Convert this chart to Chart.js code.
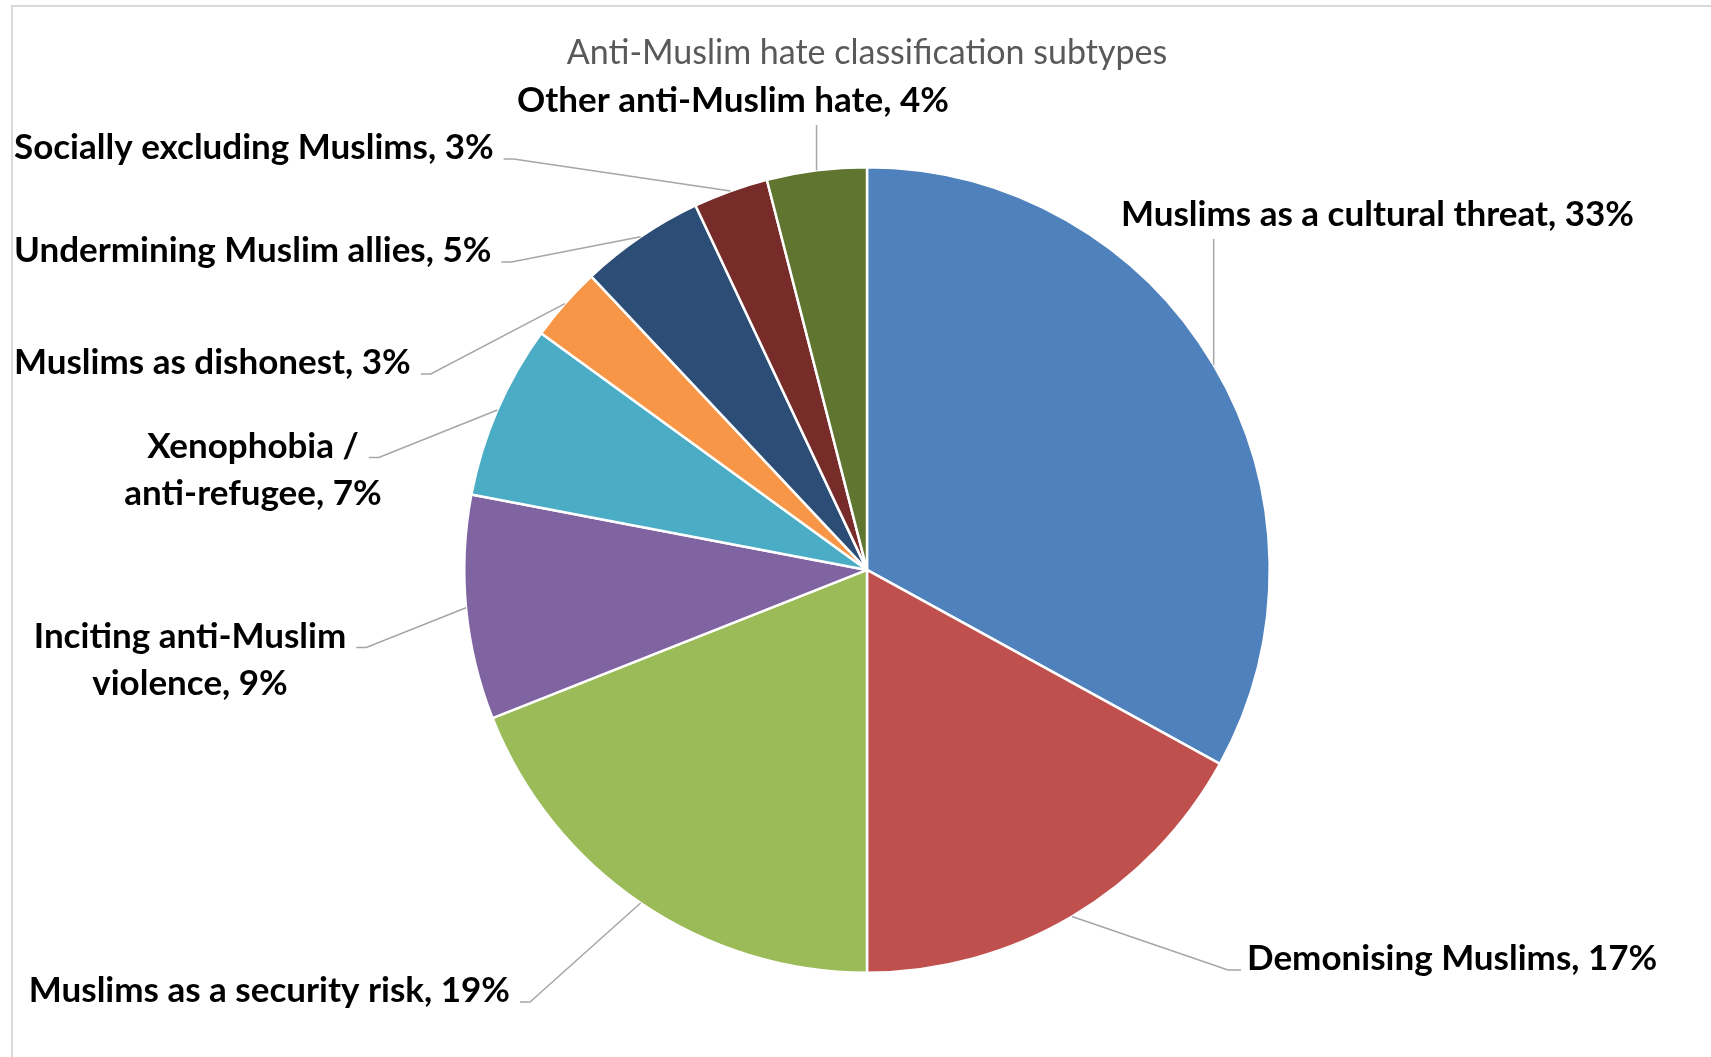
<!DOCTYPE html>
<html>
<head>
<meta charset="utf-8">
<script src="https://cdn.jsdelivr.net/npm/chart.js@4.4.1/dist/chart.umd.min.js"></script>
<style>
    body { margin: 0; background: #fff; }
    #wrap { width: 1711px; height: 1057px; position: relative; }
</style>
</head>
<body>
<div id="wrap"><canvas id="myChart"></canvas></div>
<script>
const categories = [
    'Muslims as a cultural threat',
    'Demonising Muslims',
    'Muslims as a security risk',
    'Inciting anti-Muslim violence',
    'Xenophobia / anti-refugee',
    'Muslims as dishonest',
    'Undermining Muslim allies',
    'Socially excluding Muslims',
    'Other anti-Muslim hate'
];
const shares = [33, 17, 19, 9, 7, 3, 5, 3, 4];
const sliceColors = ['#4F81BD', '#C0504D', '#9BBB59', '#8064A2', '#4BACC6', '#F79646', '#2C4D75', '#772C2A', '#5F7530'];

// where each data label sits and how its leader line runs
const labelSpots = [
    { x: 1121, y: 215, align: 'left', leader: 'down' },
    { x: 1247, y: 959, align: 'left', leader: 'right' },
    { x: 510, y: 991, align: 'right', leader: 'left' },
    { x: 190, y: 660, align: 'center', wrap: 360, leader: 'left' },
    { x: 253, y: 470, align: 'center', wrap: 290, leader: 'left' },
    { x: 14, y: 363, align: 'left', leader: 'left' },
    { x: 14, y: 251, align: 'left', leader: 'left' },
    { x: 14, y: 148, align: 'left', leader: 'left' },
    { x: 517, y: 101, align: 'left', leader: 'down' }
];

const labelFont = 'bold 35px Lato';
const lineGap = 47;

function wrapText(ctx, text, width) {
    if (!width) return [text];
    let words = text.split(' ');
    let lines = [];
    let cur = '';
    words.forEach(w => {
        let test = cur ? cur + ' ' + w : w;
        if (cur && ctx.measureText(test).width > width) {
            lines.push(cur);
            cur = w;
        } else {
            cur = test;
        }
    });
    lines.push(cur);
    return lines;
}

const frameBorder = {
    id: 'frameBorder',
    beforeDraw(chart) {
        let ctx = chart.ctx;
        ctx.save();
        ctx.strokeStyle = '#d9d9d9';
        ctx.lineWidth = 2;
        ctx.strokeRect(12, 6, 1711, 1100);
        ctx.restore();
    }
};

const sliceLabels = {
    id: 'sliceLabels',
    afterDatasetsDraw(chart) {
        let ctx = chart.ctx;
        let arcs = chart.getDatasetMeta(0).data;
        ctx.save();
        ctx.font = labelFont;
        ctx.textBaseline = 'middle';
        arcs.forEach((arc, i) => {
            let spot = labelSpots[i];
            let text = categories[i] + ', ' + shares[i] + '%';
            let lines = wrapText(ctx, text, spot.wrap);
            let top = spot.y - (lines.length - 1) * lineGap / 2;

            ctx.fillStyle = '#000';
            ctx.textAlign = spot.align;
            lines.forEach((ln, k) => ctx.fillText(ln, spot.x, top + k * lineGap));

            // leader line from the label to the middle of the slice's rim
            let mid = (arc.startAngle + arc.endAngle) / 2;
            let ex = arc.x + Math.cos(mid) * arc.outerRadius;
            let ey = arc.y + Math.sin(mid) * arc.outerRadius;
            let w0 = ctx.measureText(lines[0]).width;
            let left = spot.align === 'left' ? spot.x : spot.align === 'right' ? spot.x - w0 : spot.x - w0 / 2;

            ctx.strokeStyle = '#a6a6a6';
            ctx.lineWidth = 1.5;
            ctx.beginPath();
            if (spot.leader === 'down') {
                ctx.moveTo(ex, spot.y + 24);
                ctx.lineTo(ex, ey);
            } else if (spot.leader === 'left') {
                let sx = left + w0 + 10;
                let sy = top + 11;
                ctx.moveTo(sx, sy);
                ctx.lineTo(sx + 10, sy);
                ctx.lineTo(ex, ey);
            } else {
                let sx = left - 6;
                let sy = top + 11;
                ctx.moveTo(sx, sy);
                ctx.lineTo(sx - 13, sy);
                ctx.lineTo(ex, ey);
            }
            ctx.stroke();
        });
        ctx.restore();
    }
};

let ctx = document.getElementById('myChart').getContext('2d');
let myChart = new Chart(ctx, {
    type: 'pie',
    data: {
        labels: categories,
        datasets: [{
            data: shares,
            backgroundColor: sliceColors,
            borderColor: '#ffffff',
            borderWidth: 2.5
        }]
    },
    options: {
        responsive: true,
        maintainAspectRatio: false,
        animation: false,
        layout: {
            padding: { top: 33, bottom: 83, left: 463, right: 440 }
        },
        plugins: {
            legend: { display: false },
            tooltip: { enabled: false },
            title: {
                display: true,
                text: 'Anti-Muslim hate classification subtypes',
                color: '#595959',
                font: { family: 'Lato', size: 34, weight: 'normal', lineHeight: 1.2 },
                padding: { top: 0, bottom: 92 }
            }
        }
    },
    plugins: [frameBorder, sliceLabels]
});
</script>
</body>
</html>
